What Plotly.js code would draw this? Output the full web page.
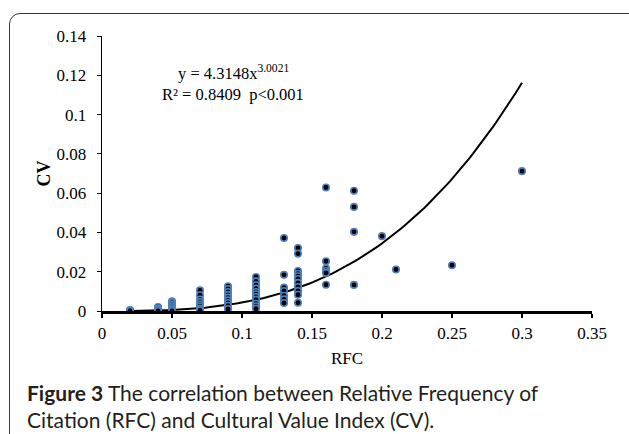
<!DOCTYPE html>
<html>
<head>
<meta charset="utf-8">
<script src="https://cdn.plot.ly/plotly-3.0.1.min.js"></script>
<style>
  html, body { margin: 0; padding: 0; background: #ffffff; }
  #wrap { position: relative; width: 629px; height: 434px; overflow: hidden; }
  #frame { position: absolute; left: 9px; top: 13px; width: 700px; height: 500px;
           border: 1.5px solid #3a3a3a; border-radius: 11px; box-sizing: border-box; }
  #chart { position: absolute; left: 0; top: 0; width: 629px; height: 434px; }
</style>
</head>
<body>
<div id="wrap">
  <div id="frame"></div>
  <div id="chart"></div>
</div>
<script>
const rfc = [
  0.02, 0.02, 0.02,
  0.04, 0.04, 0.04, 0.04,
  0.05, 0.05, 0.05, 0.05, 0.05, 0.05, 0.05,
  0.07, 0.07, 0.07, 0.07, 0.07, 0.07, 0.07, 0.07,
  0.09, 0.09, 0.09, 0.09, 0.09, 0.09, 0.09, 0.09, 0.09,
  0.11, 0.11, 0.11, 0.11, 0.11, 0.11, 0.11, 0.11, 0.11, 0.11, 0.11,
  0.13, 0.13, 0.13, 0.13, 0.13, 0.13, 0.13,
  0.14, 0.14, 0.14, 0.14, 0.14, 0.14, 0.14, 0.14, 0.14, 0.14, 0.14,
  0.16, 0.16, 0.16, 0.16, 0.16, 0.16,
  0.18, 0.18, 0.18, 0.18,
  0.20, 0.21, 0.25, 0.30
];
const cv = [
  0.0005, 0.0002, 0.0,
  0.0020, 0.0012, 0.0006, 0.0,
  0.0049, 0.0041, 0.0032, 0.0024, 0.0015, 0.0007, 0.0,
  0.0105, 0.0080, 0.0058, 0.0046, 0.0034, 0.0024, 0.0012, 0.0003,
  0.0126, 0.0112, 0.0097, 0.0082, 0.0068, 0.0054, 0.0041, 0.0027, 0.0010,
  0.0173, 0.0151, 0.0131, 0.0114, 0.0097, 0.0085, 0.0071, 0.0058, 0.0037, 0.0024, 0.0012,
  0.0372, 0.0184, 0.0119, 0.0102, 0.0078, 0.0059, 0.0041,
  0.0321, 0.0292, 0.0204, 0.0190, 0.0177, 0.0163, 0.0143, 0.0122, 0.0102, 0.0083, 0.0042,
  0.0629, 0.0253, 0.0216, 0.0204, 0.0194, 0.0134,
  0.0612, 0.0530, 0.0403, 0.0133,
  0.0381, 0.0211, 0.0233, 0.0712
];

// Fitted power trendline printed on the chart: y = a * x^b
const fitA = 4.3148;
const fitB = 3.0021;
const fitRange = [0.02, 0.30];

const xTicks = [0, 0.05, 0.1, 0.15, 0.2, 0.25, 0.3, 0.35];
const xTickText = ['0', '0.05', '0.1', '0.15', '0.2', '0.25', '0.3', '0.35'];
const yTicks = [0, 0.02, 0.04, 0.06, 0.08, 0.1, 0.12, 0.14];
const yTickText = ['0', '0.02', '0.04', '0.06', '0.08', '0.1', '0.12', '0.14'];

const fitX = [];
const fitY = [];
const nFit = 120;
for (let i = 0; i <= nFit; i++) {
  const x = fitRange[0] + (fitRange[1] - fitRange[0]) * i / nFit;
  fitX.push(x);
  fitY.push(fitA * Math.pow(x, fitB));
}

const serif = 'Liberation Serif, Times New Roman, serif';

const traces = [
  {
    x: fitX, y: fitY, mode: 'lines', type: 'scatter',
    line: { color: '#000000', width: 2 },
    hoverinfo: 'skip', showlegend: false
  },
  {
    x: rfc, y: cv, mode: 'markers', type: 'scatter',
    marker: { color: '#000000', size: 6.5, line: { color: '#4f81bd', width: 1.6 } },
    showlegend: false
  }
];

const layout = {
  width: 629, height: 434,
  margin: { l: 102, r: 37, t: 36, b: 123 },
  paper_bgcolor: 'rgba(0,0,0,0)',
  plot_bgcolor: 'rgba(0,0,0,0)',
  showlegend: false,
  font: { family: serif, color: '#000000', size: 17 },
  xaxis: {
    range: [0, 0.35], tickvals: xTicks, ticktext: xTickText,
    showgrid: false, zeroline: false,
    showline: true, linecolor: '#000000', linewidth: 2.5,
    ticks: 'outside', ticklen: 4, tickwidth: 2, tickcolor: '#000000',
    tickfont: { family: serif, size: 17, color: '#000000' },
    ticklabelstandoff: 1,
    title: { text: 'RFC', font: { family: serif, size: 17, color: '#000000' }, standoff: 10 },
    automargin: false
  },
  yaxis: {
    range: [0, 0.14], tickvals: yTicks, ticktext: yTickText,
    showgrid: false, zeroline: false,
    showline: true, linecolor: '#000000', linewidth: 1.3,
    ticks: 'outside', ticklen: 4, tickwidth: 1, tickcolor: '#000000',
    tickfont: { family: serif, size: 17, color: '#000000' },
    ticklabelstandoff: 7,
    title: { text: '<b>CV</b>', font: { family: serif, size: 18, color: '#000000' }, standoff: 1 },
    automargin: false
  },
  annotations: [
    {
      xref: 'paper', yref: 'paper', x: 0.268, y: 0.866, xanchor: 'center', yanchor: 'middle',
      text: 'y = 4.3148x<sup>3.0021</sup>', showarrow: false,
      font: { family: serif, size: 16.5, color: '#000000' }
    },
    {
      xref: 'paper', yref: 'paper', x: 0.268, y: 0.788, xanchor: 'center', yanchor: 'middle',
      text: 'R² = 0.8409  p<0.001', showarrow: false,
      font: { family: serif, size: 16.5, color: '#000000' }
    },
    {
      xref: 'paper', yref: 'paper', x: -0.158, y: -0.245, xanchor: 'left', yanchor: 'top',
      align: 'left',
      text: '<b>Figure 3</b> The correlation between Relative Frequency of<br>Citation (RFC) and Cultural Value Index (CV).',
      showarrow: false,
      font: { family: 'Lato, Noto Sans, sans-serif', size: 21, color: '#231f20' }
    }
  ]
};

Plotly.newPlot('chart', traces, layout, { staticPlot: true, displayModeBar: false });
</script>
</body>
</html>
